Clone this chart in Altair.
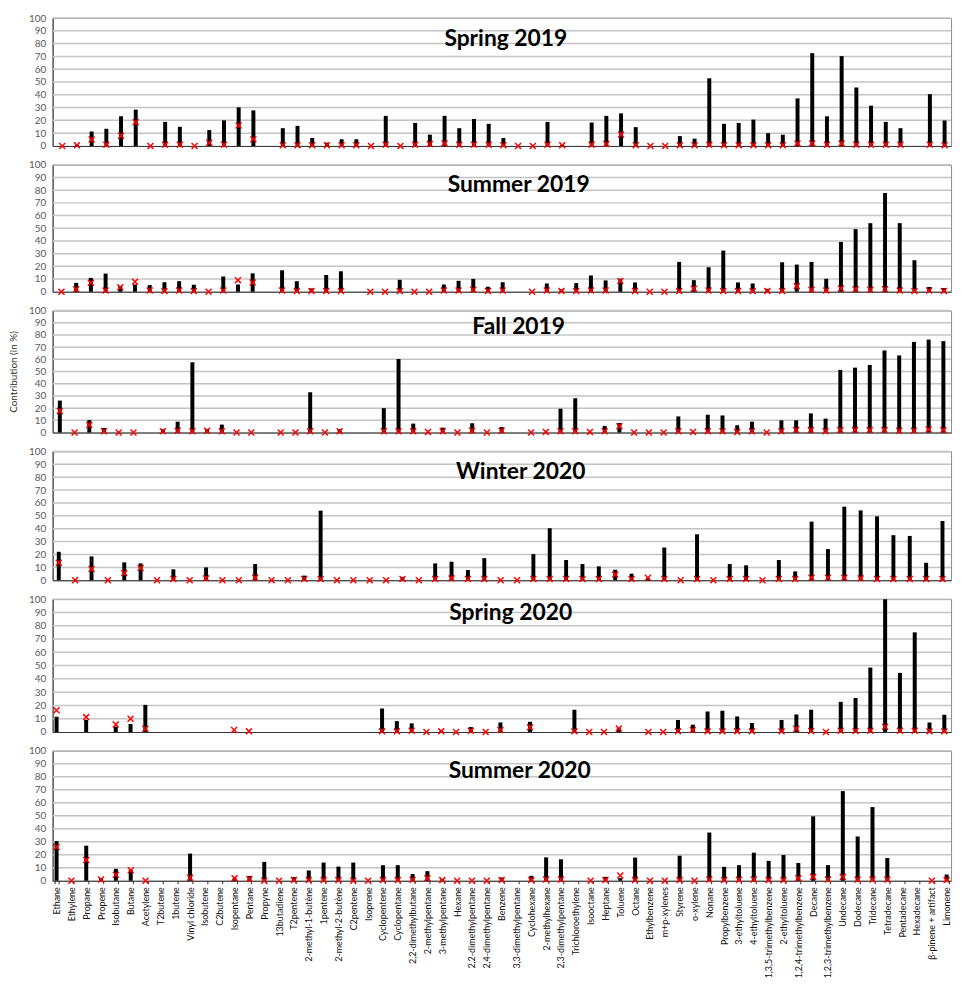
import altair as alt
import pandas as pd

N = None

compounds = [
    "Ethane", "Ethylene", "Propane", "Propene", "Isobutane", "Butane", "Acetylene", "T2butene", "1butene", "Vinyl chloride",
    "Isobutene", "C2butene", "Isopentane", "Pentane", "Propyne", "13butadiene", "T2pentene", "2-methyl-1-butène", "1pentene", "2-methyl-2-butène",
    "C2pentene", "Isoprene", "Cyclopentene", "Cyclopentane", "2,2-dimethylbutane", "2-methylpentane", "3-methylpentane", "Hexane", "2,2-dimethylpentane", "2,4-dimethylpentane",
    "Benzene", "3,3-dimethylpentane", "Cyclohexane", "2-methylhexane", "2,3-dimethylpentane", "Trichloroethylene", "Isooctane", "Heptane", "Toluene", "Octane",
    "Ethylbenzene", "m+p-xylenes", "Styrene", "o-xylene", "Nonane", "Propylbenzene", "3-ethyltoluene", "4-ethyltoluene", "1,3,5-trimethylbenzene", "2-ethyltoluene",
    "1,2,4-trimethylbenzene", "Decane", "1,2,3-trimethylbenzene", "Undecane", "Dodecane", "Tridecane", "Tetradecane", "Pentadecane", "Hexadecane", "β-pinene + artifact",
    "Limonene",
]

# The Winter 2020 chart has only 55 categories
winter_missing = ["T2butene", "C2pentene", "3,3-dimethylpentane", "Trichloroethylene", "m+p-xylenes", "Hexadecane"]
winter_compounds = [c for c in compounds if c not in winter_missing]

seasons = ["Spring 2019", "Summer 2019", "Fall 2019", "Winter 2020", "Spring 2020", "Summer 2020"]

spring19_bar = [N, 1, 11.3, 13.4, 23.2, 28.4, N, 18.8, 15, N,
                12.4, 20, 30.2, 27.8, N, 13.9, 15.7, 6.2, 2.6, 5.2,
                5.2, N, 23.5, N, 18, 8.8, 23.5, 13.9, 21.1, 17.3,
                6.2, N, N, 18.8, 1, N, 18.3, 23.5, 25.5, 14.7,
                N, N, 7.7, 5.7, 52.9, 17.3, 18, 20.6, 10, 8.8,
                37.2, 72.5, 23.2, 70.2, 45.7, 31.5, 18.8, 13.9, N, 40.5,
                19.9]
spring19_x = [0, 0.5, 5, 1, 8, 18.6, 0, 1, 1, 0,
              2.5, 1, 16, 5.2, N, 0.5, 0.5, 0.5, 0.5, 0.5,
              0.5, 0, 1, 0, 1, 1.5, 2, 1, 1, 1,
              0.5, 0, 0, 1, 0.5, N, 1, 1.5, 9, 0.5,
              0, 0, 0.5, 0.5, 1, 0.5, 0.5, 0.5, 0.5, 0.5,
              2, 2, 1, 2, 1, 1, 1, 1, N, 1,
              0.5]

summer19_bar = [N, 7, 10.9, 14.3, 4.5, 5.7, 5.2, 7.5, 8.3, 5.5,
                N, 12, 5.7, 14.5, N, 16.9, 8.3, 2.6, 13.2, 16.1,
                N, N, N, 9.4, N, N, 5.7, 8.6, 10.1, 3.9,
                7.5, N, N, 6.5, 1.8, 6.8, 12.8, 8.9, 10.2, 7.3,
                N, N, 23.5, 9.1, 19.3, 32.4, 7.3, 6.5, 2.3, 23.2,
                21.4, 23.5, 10.2, 39.2, 49.3, 54, 77.8, 54, 24.8, 3.7,
                2.9]
summer19_x = [0, 2, 7, 1, 3.5, 7.8, 1, 0.5, 1, 0.5,
              0, 1, 9.1, 7.3, N, 1, 0.5, 0.5, 0.5, 0.5,
              N, 0, 0, 0.5, 0, 0, 1, 1, 1.5, 0.5,
              1, N, 0, 1, 0.5, 0.5, 1, 1, 8.4, 0.5,
              0, 0, 0.5, 2.4, 1, 0.5, 0.5, 0.5, 0.5, 0.5,
              4.4, 1.5, 1, 2.5, 2, 1.5, 2, 1, 0.5, 1,
              0.5]

fall19_bar = [26.2, N, 10.3, 3.8, N, N, N, 2.7, 8.9, 57.6,
              3, 6.5, N, N, N, N, N, 33, N, 2.7,
              N, N, 20, 60.3, 7.3, N, 4, N, 7.6, N,
              4.6, N, N, N, 19.5, 28.1, N, 5.4, 7.8, N,
              N, N, 13.2, N, 14.6, 14, 6, 8.9, N, 10,
              10, 15.7, 11.4, 51.4, 53.2, 55.4, 67.3, 63.2, 74.3, 76.2,
              74.9]
fall19_x = [17.6, 0, 6.2, 1, 0, 0, N, 1, 1.5, 1,
            1.5, 1, 0, 0, N, 0, 0, 1, 0, 1,
            N, N, 1, 1, 1, 0.5, 1, 0, 1.5, 0,
            1.5, N, 0, 0.5, 1, 1, 0.5, 1, 5.1, 0,
            0, 0, 1, 0.5, 1, 1, 0.5, 1, 0, 1,
            2, 2, 1, 2, 2, 2, 2, 1.5, 1.5, 2.5,
            2]

winter20_bar = [22.1, N, 18.5, N, 13.9, 13.1, N, 8.5, N, 10,
                N, N, 12.6, N, N, 3.6, 54, N, N, N,
                N, 2.6, N, 13.1, 14.4, 8, 17.2, N, N, 20.3,
                40.4, 15.7, 12.6, 10.8, 8.2, 5.1, 2, 25.4, N, 35.7,
                N, 12.6, 11.6, N, 15.7, 6.9, 45.5, 24.2, 57.1, 54.2,
                49.6, 35, 34.4, 13.6, 46]
winter20_x = [13.6, 0, 8.7, 0, 5.7, 9.5, 0, 1, 0, 1.5,
              0, 0, 2, 0, 0, 1, 1, 0, 0, 0,
              0, 1, 0, 1, 1.5, 1, 1, 0, 0, 1,
              1, 1, 1, 1, 4.4, 1, 2, 1, 0, 1,
              0, 1, 1, 0, 1, 1, 2, 2, 2, 1.5,
              1, 1, 1, 1, 1]

spring20_bar = [11.5, N, 9.2, N, 4.2, 6, 20.4, N, N, N,
                N, N, N, N, N, N, N, N, N, N,
                N, N, 17.7, 8.2, 6.5, N, 0.8, N, 3.7, N,
                7.2, N, 7.7, N, N, 16.7, N, N, 3, N,
                N, N, 9, 5.5, 15.5, 16, 11.7, 6.7, N, 9,
                13.2, 16.7, N, 22.7, 25.6, 48.5, 100, 44.5, 75, 7.2,
                13]
spring20_x = [16.4, N, 11.2, N, 5.7, 10, 2.5, N, N, N,
              N, N, 1.5, 0.5, N, N, N, N, N, N,
              N, N, 0.5, 0.5, 1, 0, 0.5, 0, 1, 0,
              1.5, N, 3.5, N, N, 0.5, 0, 0, 2.7, N,
              0, 0, 0.5, 1.5, 0.5, 0.5, 0.5, 0.5, N, 0.5,
              2.5, 0.8, 0, 1, 0.8, 1, 4, 1, 1, 0.5,
              0.5]

summer20_bar = [30.5, N, 27, 2, 9.2, 8.4, N, N, N, 20.9,
                N, N, 2, 3.6, 14.5, N, 2.8, 7.9, 14, 10.9,
                14, N, 12, 12, 5.1, 7.4, 1.3, N, N, N,
                2.5, N, 3.8, 18, 16.5, N, N, 3, 2, 17.8,
                N, N, 19.3, N, 37.1, 10.7, 12, 21.6, 15.3, 19.8,
                13.7, 49.6, 12, 69, 34.1, 56.7, 17.5, N, N, N,
                4.8]
summer20_x = [26, 0, 16, 1, 4.6, 8.1, 0, N, N, 2.3,
              N, N, 2, 1.3, 0, 0, 0.5, 0.5, 0.5, 0.5,
              0, 0, 0.5, 0.5, 0.8, 2, 0.5, 0, 0, 0,
              0.5, N, 0.5, 1, 1, N, 0, 0.5, 4, 0.5,
              0, 0, 0.5, 0, 1, 0.5, 0.8, 1, 0.5, 0.5,
              2, 3, 1, 3, 1, 1, 1, N, N, 0,
              0.5]

y_ticks = [0, 10, 20, 30, 40, 50, 60, 70, 80, 90, 100]

bar_values = [spring19_bar, summer19_bar, fall19_bar, winter20_bar, spring20_bar, summer20_bar]
cross_values = [spring19_x, summer19_x, fall19_x, winter20_x, spring20_x, summer20_x]
categories = [compounds, compounds, compounds, winter_compounds, compounds, compounds]

# layout (not data)
W = 906
heights = [129, 128, 123, 130, 134, 131]
pad_inner = [0.73, 0.73, 0.73, 0.76, 0.73, 0.73]
pad_outer = [0.41, 0.41, 0.37, 0.33, 0.225, 0.145]
aligns = [0.63, 0.57, 0.48, 0.39, 0.29, 0.45]
title_x = [457, 470, 470, 472, 462, 471]
title_y = [28.5, 27, 23.5, 28, 21, 27]

XSHAPE = "M-1,-1L1,1M-1,1L1,-1"
FONT = "Lato"

grid_df = pd.DataFrame({"g": y_ticks[1:]})

panels = []
for i, season in enumerate(seasons):
    cats = categories[i]
    df = pd.DataFrame({"compound": cats, "bar": bar_values[i], "cross": cross_values[i]})
    last = i == len(seasons) - 1
    if last:
        xaxis = alt.Axis(title=None, labelAngle=270, labelFontSize=9, labelFont=FONT, labelColor="#111",
                         labelPadding=3, ticks=True, tickBand="extent", tickSize=3, tickColor="#333",
                         domainColor="#333", labelOverlap=False, labelLimit=200, grid=False)
    else:
        xaxis = alt.Axis(title=None, labels=False, ticks=False, domainColor="#333", grid=False)
    yaxis = alt.Axis(values=y_ticks, tickCount=11, grid=False,
                     ticks=False, labelOverlap=False, labelBound=False,
                     domainColor="#333", labelColor="#595959", labelFontSize=10, labelFont=FONT,
                     labelPadding=7,
                     title="Contribution (in %)" if i == 2 else None,
                     titleFontSize=10, titleFont=FONT, titleFontWeight="normal", titleColor="#333",
                     titlePadding=10)
    xscale = alt.Scale(domain=cats, paddingInner=pad_inner[i], paddingOuter=pad_outer[i], align=aligns[i])
    yscale = alt.Scale(domain=[0, 100], nice=False)
    grid = alt.Chart(grid_df).mark_rule(color="#c4c4c4", strokeWidth=1.5, opacity=1).encode(
        y=alt.Y("g:Q", scale=yscale, axis=yaxis),
    )
    base = alt.Chart(df)
    bars = base.mark_bar(color="black").encode(
        x=alt.X("compound:N", scale=xscale, axis=xaxis, sort=None),
        y=alt.Y("bar:Q", scale=yscale, axis=yaxis),
    )
    crosses = base.mark_point(shape=XSHAPE, filled=False, stroke="#ff0000", strokeWidth=1.5,
                              size=36, opacity=1).encode(
        x=alt.X("compound:N", scale=xscale, axis=xaxis, sort=None),
        y=alt.Y("cross:Q", scale=yscale, axis=yaxis),
    )
    title = alt.Chart(pd.DataFrame({"t": [season]})).mark_text(
        font=FONT, fontSize=23, fontWeight="bold", align="center", baseline="alphabetic", color="black"
    ).encode(text="t:N", x=alt.value(title_x[i]), y=alt.value(title_y[i]))
    panels.append(alt.layer(grid, bars, crosses, title).properties(width=W, height=heights[i]))

chart = alt.vconcat(*panels, spacing=19, bounds="flush").resolve_scale(x="independent").properties(
    padding={"left": 0, "top": 0, "right": 2, "bottom": 0}
).configure_view(stroke="#8c8c8c", strokeWidth=1).configure_axisY(
    labelOverlap=False, tickCount=11
)

chart.save("out.html", embed_options={"renderer": "svg", "actions": False})
